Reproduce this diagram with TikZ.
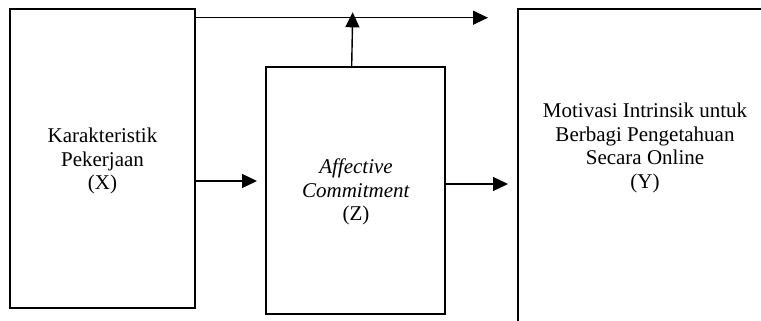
\documentclass[tikz,border=0pt]{standalone}
\usepackage{fontspec}
\setmainfont{Liberation Serif}
\usetikzlibrary{arrows.meta}
\begin{document}
\begin{tikzpicture}[x=0.5pt,y=-0.5pt,line width=0.7pt,>={Triangle[length=7.5pt,width=7pt]}]
	\tikzstyle{var-box}=[draw=black,line width=1pt,inner sep=0pt]
	\tikzstyle{var-text}=[align=center,inner sep=0pt,font=\fontsize{10.5}{11.8}\selectfont]
	\clip (0,0) rectangle (761,321);

	% boxes
	\node[var-box,minimum width=92.5pt,minimum height=149.5pt]	(X)	at (102.5,158.5)	{};
	\node[var-box,minimum width=89.5pt,minimum height=123.5pt]	(Z)	at (355.5,190.5)	{};
	\node[var-box,minimum width=141pt,minimum height=175pt]	(Y)	at (659,184)	{};

	% texts
	\node[var-text]	(x-text)	at (102.5,161)	{Karakteristik\\Pekerjaan\\(X)};
	\node[var-text]	(z-text)	at (356,192)	{\textit{Affective}\\\textit{Commitment}\\(Z)};
	\node[var-text]	(y-text)	at (645,148)	{Motivasi Intrinsik untuk\\Berbagi Pengetahuan\\Secara Online\\(Y)};

	% free ends
	\coordinate	(top-end)	at (488,17.7);
	\coordinate	(up-end)	at (352.7,12.3);

	\draw[->]	(X.east |- top-end)	--	(top-end);
	\draw[->]	(Z.north -| 351.7,0)	--	(up-end);
	\draw[->,shorten >=4pt]	(X.east |- 0,181)	--	(Z.west |- 0,181);
	\draw[->,shorten >=4.5pt]	(Z.east |- 0,184)	--	(Y.west |- 0,184);
\end{tikzpicture}
\end{document}
